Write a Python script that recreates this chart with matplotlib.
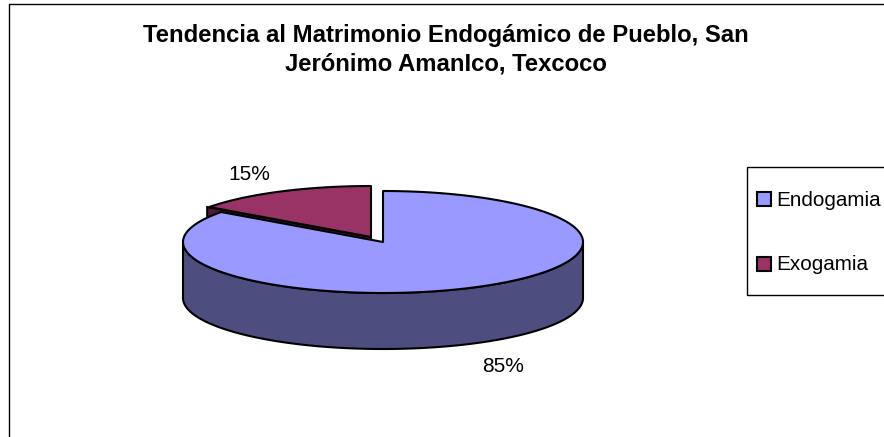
import numpy as np
import matplotlib
matplotlib.use("Agg")
import matplotlib.pyplot as plt
from matplotlib.patches import Rectangle, Polygon

title = "Tendencia al Matrimonio Endogámico de Pueblo, San\nJerónimo AmanIco, Texcoco"
categories = ["Endogamia", "Exogamia"]
values = [85, 15]
labels = ["85%", "15%"]
top_colors = ["#9999FF", "#993366"]
side_colors = ["#4D4D80", "#4D1933"]

plt.rcParams["font.family"] = ["Liberation Sans", "DejaVu Sans"]
fig = plt.figure(figsize=(8.84, 4.37), dpi=100)
ax = fig.add_axes([0, 0, 1, 1])
ax.set_xlim(0, 884)
ax.set_ylim(437, 0)
ax.axis("off")

cx, cy, rx, ry, depth = 383, 242, 200, 51, 56
ex, ey = -12, -5   # offset of the pulled-out slice
fracs = np.array(values) / sum(values)
a_end = 2 * np.pi * fracs[0]

def rim(th, dx=0, dy=0):
    return cx + dx + rx * np.sin(th), cy + dy - ry * np.cos(th)

LW = 1.5
# frame
ax.plot([9, 9, 884], [437, 4, 4], color="black", lw=1.0, solid_capstyle="butt")

# exogamia: cut face, then top
x0, y0 = rim(a_end, ex, ey)
x0 -= 2
face = [(cx + ex, cy + ey), (x0, y0), (x0, y0 + depth), (cx + ex, cy + ey + depth)]
ax.add_patch(Polygon(face, closed=True, fc=side_colors[1], ec="black", lw=LW, zorder=2))
th = np.linspace(a_end, 2 * np.pi, 120)
xs, ys = rim(th, ex, ey)
ax.add_patch(Polygon(np.r_[[[cx + ex, cy + ey]], np.c_[xs, ys]], closed=True,
                     fc=top_colors[1], ec="black", lw=LW, joinstyle="round", zorder=3))

# endogamia: side wall, then top
th = np.linspace(np.pi / 2, 3 * np.pi / 2, 150)
xs, ys = rim(th)
wall = np.r_[np.c_[xs, ys], np.c_[xs, ys + depth][::-1]]
ax.add_patch(Polygon(wall, closed=True, fc=side_colors[0], ec="black", lw=LW, zorder=4))
th = np.linspace(0, a_end, 300)
xs, ys = rim(th)
ax.add_patch(Polygon(np.r_[[[cx, cy]], np.c_[xs, ys]], closed=True,
                     fc=top_colors[0], ec="black", lw=LW, joinstyle="round", zorder=5))

# title and data labels
ax.text(446, 49.5, title, ha="center", va="center", fontsize=17.2, fontweight="bold",
        color="black", linespacing=1.3)
ax.text(503, 366, labels[0], ha="center", va="center", fontsize=15, color="black")
ax.text(249, 174, labels[1], ha="center", va="center", fontsize=15, color="black")

# legend
ax.add_patch(Rectangle((747, 167), 150, 128, fc="white", ec="black", lw=1.0, zorder=6))
for yy, name, c in zip([199, 264], categories, top_colors):
    ax.add_patch(Rectangle((757, yy - 7), 14, 14, fc=c, ec="black", lw=1.5, zorder=7))
    ax.text(776, yy + 1, name, ha="left", va="center", fontsize=14.9, color="black", zorder=7)

fig.savefig("out.png", dpi=100)
